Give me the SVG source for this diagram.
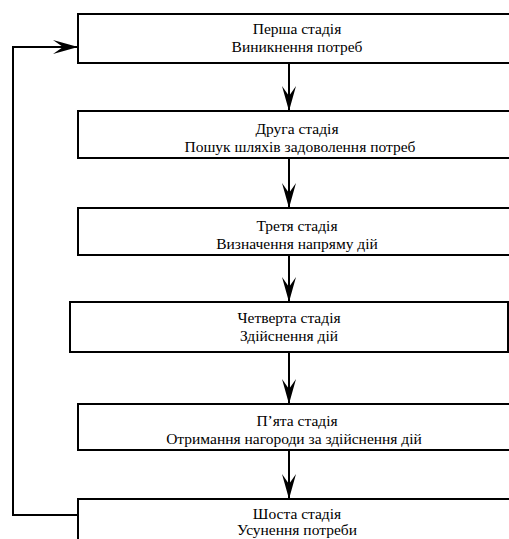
<svg xmlns="http://www.w3.org/2000/svg" width="509" height="539" viewBox="0 0 509 539">
<style>
.box{fill:#fff;stroke:#000;stroke-width:2}
.c{fill:none;stroke:#000;stroke-width:2}
</style>
<defs>
<marker id="ah" viewBox="0 0 25 14" refX="25" refY="7" markerWidth="25" markerHeight="14" markerUnits="userSpaceOnUse" orient="auto">
<path d="M0,0 L25,7 L0,14 L10,7 Z" fill="#000"/>
</marker>
</defs>
<rect width="509" height="539" fill="#fff"/>
<g id="connectors">
<line class="c" x1="289" y1="63" x2="289" y2="111" marker-end="url(#ah)"/>
<line class="c" x1="289" y1="158" x2="289" y2="208" marker-end="url(#ah)"/>
<line class="c" x1="289" y1="255" x2="289" y2="302" marker-end="url(#ah)"/>
<line class="c" x1="289" y1="352" x2="289" y2="404" marker-end="url(#ah)"/>
<line class="c" x1="289" y1="450" x2="289" y2="499" marker-end="url(#ah)"/>
<polyline class="c" points="78,515 13,515 13,47 78,47" marker-end="url(#ah)"/>
</g>
<g font-family="Liberation Serif, Times New Roman, serif" font-size="15.5" text-anchor="middle" fill="#000">
<g id="stage1">
<rect class="box" x="78" y="14" width="440" height="49"/>
<text x="297" y="34">Перша стадія</text>
<text x="297" y="52">Виникнення потреб</text>
</g>
<g id="stage2">
<rect class="box" x="78" y="111" width="440" height="47"/>
<text x="297" y="134">Друга стадія</text>
<text x="300" y="152">Пошук шляхів задоволення потреб</text>
</g>
<g id="stage3">
<rect class="box" x="78" y="208" width="440" height="47"/>
<text x="297" y="231">Третя стадія</text>
<text x="297" y="249">Визначення напряму дій</text>
</g>
<g id="stage4">
<rect class="box" x="70" y="302" width="438" height="50"/>
<text x="289" y="323">Четверта стадія</text>
<text x="289" y="341">Здійснення дій</text>
</g>
<g id="stage5">
<rect class="box" x="78" y="404" width="440" height="46"/>
<text x="297" y="426">П’ята стадія</text>
<text x="294" y="444">Отримання нагороди за здійснення дій</text>
</g>
<g id="stage6">
<rect class="box" x="78" y="499" width="440" height="60"/>
<text x="297" y="519">Шоста стадія</text>
<text x="297" y="535">Усунення потреби</text>
</g>
</g>
</svg>
